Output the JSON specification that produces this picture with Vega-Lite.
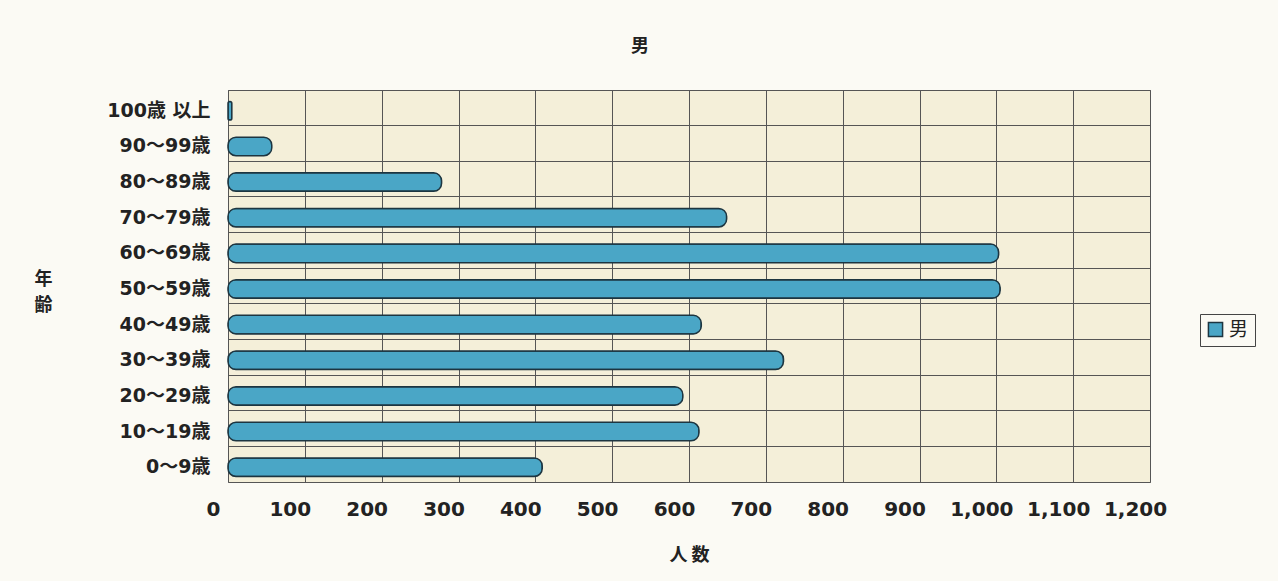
{
  "$schema": "https://vega.github.io/schema/vega-lite/v6.json",
  "autosize": {"type": "none"},
  "width": 922,
  "height": 392,
  "padding": {"left": 228, "top": 90, "right": 128, "bottom": 99},
  "background": "#fbfaf4",
  "title": {"text": "男", "fontSize": 18, "font": "Noto Sans CJK JP", "fontWeight": "bold", "color": "#222", "offset": 34, "dx": -49},
  "data": {"values": [
    {"age": "100歳 以上", "count": 5, "sex": "男"},
    {"age": "90～99歳", "count": 57, "sex": "男"},
    {"age": "80～89歳", "count": 278, "sex": "男"},
    {"age": "70～79歳", "count": 649, "sex": "男"},
    {"age": "60～69歳", "count": 1003, "sex": "男"},
    {"age": "50～59歳", "count": 1005, "sex": "男"},
    {"age": "40～49歳", "count": 616, "sex": "男"},
    {"age": "30～39歳", "count": 723, "sex": "男"},
    {"age": "20～29歳", "count": 592, "sex": "男"},
    {"age": "10～19歳", "count": 613, "sex": "男"},
    {"age": "0～9歳", "count": 409, "sex": "男"}
  ]},
  "mark": {"type": "bar", "stroke": "#1d3540", "strokeWidth": 1.5, "cornerRadius": 8, "height": {"band": 0.52}, "yOffset": 3},
  "encoding": {
    "y": {
      "field": "age", "type": "nominal", "sort": null,
      "scale": {"paddingInner": 0, "paddingOuter": 0},
      "axis": {
        "title": ["年", "齢"], "titleAngle": 0, "titleX": -185, "titleY": 198,
        "titleFont": "Noto Sans CJK JP", "titleFontSize": 18, "titleFontWeight": "bold", "titleColor": "#222",
        "titleLineHeight": 26,
        "bandPosition": 0, "labelOffset": 3, "labelBaseline": "middle", "ticks": false, "domain": false,
        "grid": true, "gridColor": "#555", "gridWidth": 1,
        "labelFont": "DejaVu Sans, Noto Sans CJK JP", "labelFontSize": 19, "labelFontWeight": "bold", "labelColor": "#222",
        "labelPadding": 18
      }
    },
    "x": {
      "field": "count", "type": "quantitative",
      "scale": {"domain": [0, 1200], "nice": false},
      "axis": {
        "title": "人 数", "titleFont": "Noto Sans CJK JP", "titleFontSize": 18, "titleFontWeight": "bold", "titleColor": "#222",
        "titlePadding": 27,
        "values": [0,100,200,300,400,500,600,700,800,900,1000,1100,1200],
        "format": ",d", "ticks": false, "domain": false,
        "grid": true, "gridColor": "#555", "gridWidth": 1,
        "labelFont": "DejaVu Sans", "labelFontSize": 20, "labelFontWeight": "bold", "labelColor": "#222",
        "labelPadding": 17, "labelFlush": false, "labelOffset": -15
      }
    },
    "color": {
      "field": "sex", "type": "nominal",
      "scale": {"range": ["#4aa6c6"]},
      "legend": {
        "title": null, "orient": "none", "legendX": 972, "legendY": 224,
        "labelFont": "Noto Sans CJK JP", "labelFontSize": 19, "labelColor": "#222",
        "symbolType": "square", "symbolSize": 200, "symbolStrokeColor": "#1d3540", "symbolStrokeWidth": 1.5,
        "strokeColor": "#444", "padding": 6, "fillColor": "#fbfaf4"
      }
    }
  },
  "config": {
    "view": {"fill": "#f4efd9", "stroke": "#555", "strokeWidth": 1}
  }
}
